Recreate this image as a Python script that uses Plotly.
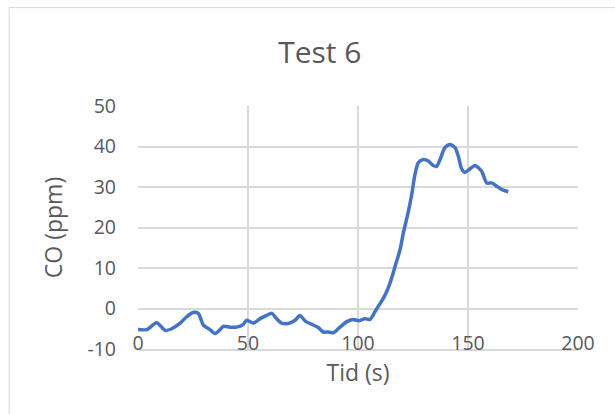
import plotly.graph_objects as go

# Time (s) and CO concentration (ppm) for test 6
tid_s = [0, 4, 8.5, 12.3, 15.3, 19, 22, 25, 27.4, 29.7, 32.7, 35, 37.3, 38.8,
         41.8, 44.8, 47.9, 49.4, 52.4, 55.5, 58.5, 60.8, 63, 65.3, 68.3, 71.4,
         73.6, 76, 78.9, 81.9, 84.2, 86.5, 88.8, 91.8, 94.8, 97.5, 100.5, 103.2,
         105.5, 107.7, 110, 112.3, 114.5, 116.8, 119.1, 120.6, 122.9, 124.4,
         125.9, 127.4, 129.7, 132, 134.2, 135.8, 137.3, 139.5, 141.8, 144.1,
         145.6, 147.1, 148.6, 150.9, 153.2, 156.2, 158.5, 160.8, 163, 165.3, 168.3]
co_ppm = [-5.2, -5.2, -3.5, -5.4, -5.0, -3.7, -2.1, -1.0, -1.2, -4.1, -5.2, -6.2,
          -5.2, -4.4, -4.6, -4.6, -3.9, -2.9, -3.6, -2.5, -1.7, -1.2, -2.5, -3.6,
          -3.7, -2.9, -1.7, -3.1, -3.9, -4.7, -5.8, -5.8, -6.0, -4.6, -3.3, -2.7,
          -3.0, -2.5, -2.7, -0.8, 1.2, 3.3, 6.2, 10.3, 14.5, 18.6, 24, 28.1, 33.1,
          36, 36.8, 36.4, 35.3, 35.1, 36.8, 39.7, 40.5, 39.7, 37.6, 34.5, 33.6,
          34.5, 35.3, 33.9, 31, 31, 30.2, 29.4, 28.8]

x_ticks = [0, 50, 100, 150, 200]
y_ticks = [-10, 0, 10, 20, 30, 40, 50]

TEXT = "#595959"
GRID = "#d9d9d9"
FONT = "Open Sans"

fig = go.Figure()
fig.add_trace(go.Scatter(
    x=tid_s, y=co_ppm, mode="lines",
    line=dict(color="#4472c4", width=3.5, shape="spline", smoothing=0.7),
    showlegend=False, hoverinfo="x+y",
))

fig.update_layout(
    width=615, height=414,
    margin=dict(l=138, r=37, t=106, b=65),
    paper_bgcolor="white", plot_bgcolor="white",
    font=dict(family=FONT, color=TEXT, size=18),
    title=dict(text="Test 6", x=0.52, xanchor="center", y=0.872,
               yanchor="middle", font=dict(size=30, color=TEXT, family=FONT)),
    shapes=[dict(type="rect", xref="paper", yref="paper",
                 x0=-0.293, x1=1.3, y0=-0.5, y1=1.405,
                 line=dict(color="#d9d9d9", width=1), fillcolor="rgba(0,0,0,0)",
                 layer="below")],
)

fig.update_xaxes(
    range=[0, 200], tickvals=x_ticks, ticktext=[str(v) for v in x_ticks],
    showgrid=True, gridcolor=GRID, gridwidth=1.5, zeroline=False,
    showline=True, linecolor=GRID, linewidth=1.5,
    ticks="", ticklabelstandoff=-24, tickfont=dict(size=19.5, color=TEXT),
    title=dict(text="Tid (s)", font=dict(size=23, color=TEXT), standoff=0),
)
fig.update_yaxes(
    range=[-10, 50], tickvals=y_ticks, ticktext=[str(v) for v in y_ticks],
    showgrid=True, gridcolor=GRID, gridwidth=1.5, zeroline=False,
    showline=False, ticks="", ticklabelstandoff=21,
    tickfont=dict(size=19.5, color=TEXT),
    title=dict(text="CO (ppm)", font=dict(size=23, color=TEXT), standoff=18),
)

fig.write_html("out.html")
